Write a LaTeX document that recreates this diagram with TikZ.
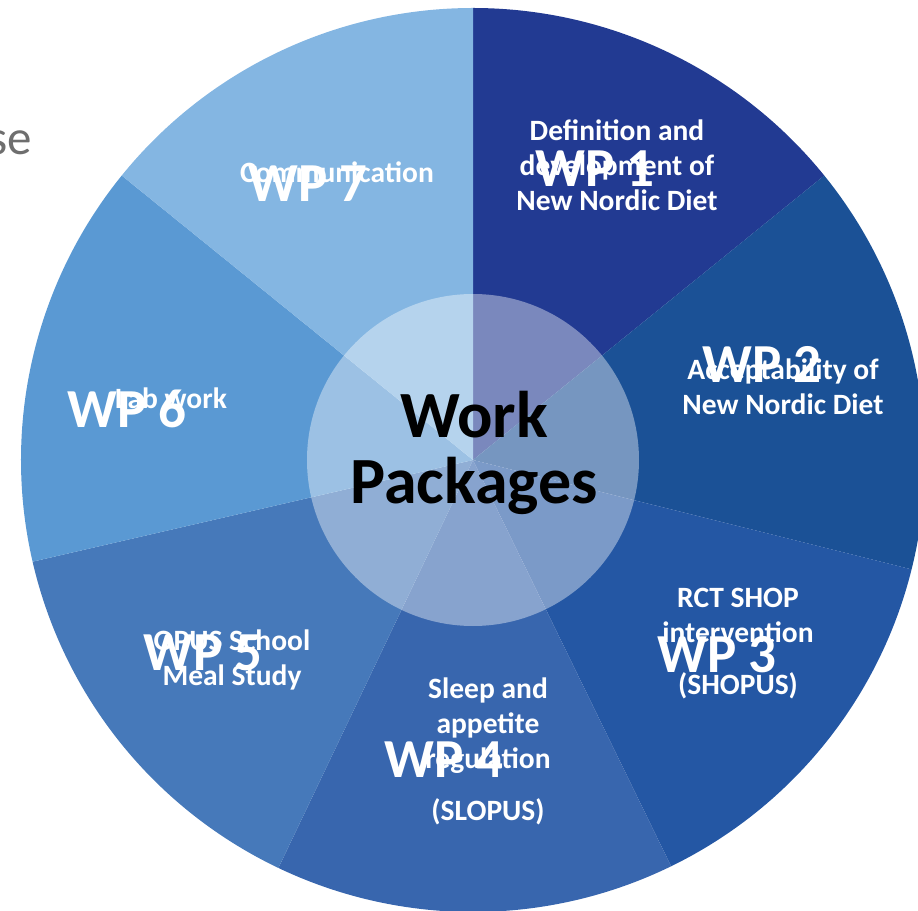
\documentclass[tikz,border=0pt]{standalone}
\usepackage{fontspec}
\setmainfont{Carlito}
\usepackage{tikz}
\usetikzlibrary{positioning}

\definecolor{wpone}{HTML}{223A92}
\definecolor{wptwo}{HTML}{1B5196}
\definecolor{wpthree}{HTML}{2457A4}
\definecolor{wpfour}{HTML}{3866AE}
\definecolor{wpfive}{HTML}{4679BA}
\definecolor{wpsix}{HTML}{5A99D3}
\definecolor{wpseven}{HTML}{84B6E2}
\definecolor{slidegrey}{HTML}{6E6E6E}

\begin{document}
\begin{tikzpicture}[x=1pt,y=1pt,
    wplabel/.style={text=white,inner sep=0pt,anchor=base,
        font=\fontsize{55}{55}\selectfont\bfseries},
    wptext/.style={text=white,inner sep=0pt,anchor=base,align=center,
        font=\fontsize{29.5}{35}\selectfont\bfseries}
]

\useasboundingbox (-473,-450) rectangle (445,460);

\node[text=slidegrey,
    inner sep=0pt,
    anchor=base east,
    font=\fontsize{49}{49}\selectfont
] (title) at (-441,305) {se};

\fill[wpone]   (0,0) -- (90:452)   arc[start angle=90,end angle=39,radius=452] -- cycle;
\fill[wptwo]   (0,0) -- (39:452)   arc[start angle=39,end angle=-14,radius=452] -- cycle;
\fill[wpthree] (0,0) -- (-14:452)  arc[start angle=-14,end angle=-64,radius=452] -- cycle;
\fill[wpfour]  (0,0) -- (-64:452)  arc[start angle=-64,end angle=-115.5,radius=452] -- cycle;
\fill[wpfive]  (0,0) -- (-115.5:452) arc[start angle=-115.5,end angle=-167,radius=452] -- cycle;
\fill[wpsix]   (0,0) -- (-167:452) arc[start angle=-167,end angle=-219,radius=452] -- cycle;
\fill[wpseven] (0,0) -- (-219:452) arc[start angle=-219,end angle=-270,radius=452] -- cycle;

\fill[white,opacity=0.4] (0,0) circle[radius=166];

\node[inner sep=0pt,
    align=center,
    anchor=base,
    text=black,
    font=\fontsize{66}{66}\selectfont\bfseries
] (hub) at (1,-43) {Work\\Packages};

\node[wptext] (wp1text) at (144,249) {Definition and\\development of\\New Nordic Diet};
\node[wplabel] (wp1) at (122,273) {WP 1};

\node[wptext] (wp2text) at (310,45) {Acceptability of\\New Nordic Diet};
\node[wplabel] (wp2) at (289,77) {WP 2};

\node[wptext] (wp3text) at (265,-234) {RCT SHOP\\intervention\\[17pt](SHOPUS)};
\node[wplabel] (wp3) at (244,-212) {WP 3};

\node[wptext] (wp4text) at (15,-360) {Sleep and\\appetite\\regulation\\[17pt](SLOPUS)};
\node[wplabel] (wp4) at (-29,-317) {WP 4};

\node[wptext] (wp5text) at (-241,-225) {OPUS School\\Meal Study};
\node[wplabel] (wp5) at (-270,-210) {WP 5};

\node[wptext] (wp6text) at (-302,51) {Lab work};
\node[wplabel] (wp6) at (-346,32) {WP 6};

\node[wptext] (wp7text) at (-136,277) {Communication};
\node[wplabel] (wp7) at (-165,258) {WP 7};

\end{tikzpicture}
\end{document}
